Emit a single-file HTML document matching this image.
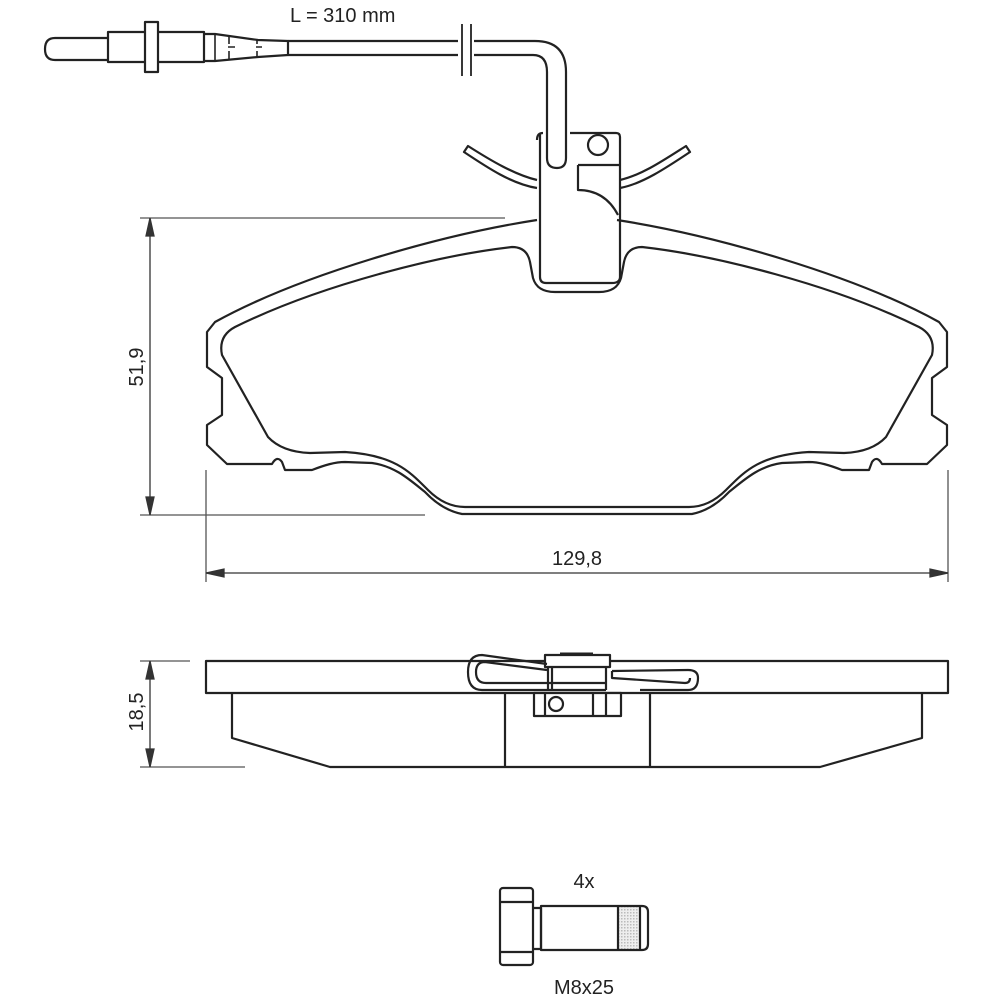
<!DOCTYPE html>
<html><head><meta charset="utf-8"><style>
html,body{margin:0;padding:0;background:#fff}
svg{display:block}
text{font-family:"Liberation Sans",sans-serif;fill:#222}
</style></head><body>
<svg width="1000" height="1000" viewBox="0 0 1000 1000" xmlns="http://www.w3.org/2000/svg">
<defs>
<pattern id="hat" width="3" height="3" patternUnits="userSpaceOnUse"><rect width="3" height="3" fill="#eee"/><rect width="1.5" height="1.5" fill="#bbb"/></pattern>
</defs>
<g fill="none" stroke="#222" stroke-width="2.2" stroke-linejoin="round">
<g>
<path d="M537,220 C440,235 300,275 215,322 L207,332 L207,367 L222,378 L222,415 L207,425 L207,445 L227,464 L272,464 Q277,455 282,462 L285,470 L312,470 C325,465 335,462 345,462 L372,463 C395,466 410,480 425,492 Q442,510 462,514 L577,514"/>
<path d="M577,507 L465,507 Q445,507 428,490 C410,472 395,455 345,452 L310,453 Q282,452 268,437 L222,355 Q218,336 235,327 C320,285 440,255 512,247 Q527,247 530,262 L533,278 Q537,292 555,292 L577,292"/>
</g>
<g transform="translate(1154,0) scale(-1,1)">
<path d="M537,220 C440,235 300,275 215,322 L207,332 L207,367 L222,378 L222,415 L207,425 L207,445 L227,464 L272,464 Q277,455 282,462 L285,470 L312,470 C325,465 335,462 345,462 L372,463 C395,466 410,480 425,492 Q442,510 462,514 L577,514"/>
<path d="M577,507 L465,507 Q445,507 428,490 C410,472 395,455 345,452 L310,453 Q282,452 268,437 L222,355 Q218,336 235,327 C320,285 440,255 512,247 Q527,247 530,262 L533,278 Q537,292 555,292 L577,292"/>
</g>
<path d="M537,180 C515,175 490,160 468,146 L464,152 C488,168 512,184 537,188"/>
<path d="M620,180 C642,175 664,160 686,146 L690,152 C666,168 642,184 620,188"/>
<path d="M540,133 L540,277 Q540,283 546,283 L612,283 Q620,283 620,277 L620,137 Q620,133 616,133 L570,133"/>
<path d="M543,133 Q537,133 537,140"/>
<circle cx="598" cy="145" r="10"/>
<path d="M578,165 L620,165 M578,165 L578,190 Q605,190 618,215"/>
<path d="M288,41 L458,41 M474,41 L535,41 Q566,41 566,72 L566,158 Q566,168 557,168 Q547,168 547,158 L547,72 Q547,55 533,55 L474,55 M458,55 L288,55"/>
<path d="M462,24 L462,76 M471,24 L471,76" stroke-width="1.8"/>
<path d="M108,38 L55,38 Q45,38 45,49 Q45,60 55,60 L108,60"/>
<rect x="108" y="32" width="96" height="30"/>
<rect x="145" y="22" width="13" height="50" fill="#fff"/>
<path d="M204,34 L215,34 L258,40 L288,41 L288,55 L258,57 L215,61 L204,61"/>
<path d="M215,34 L215,61 M229,36 L229,44 M229,51 L229,59 M257,40 L257,44 M257,51 L257,57 M228,47 L235,47 M256,47 L262,47" stroke-width="1.6"/>
<rect x="206" y="661" width="742" height="32"/>
<path d="M232,693 L232,738 L330,767 L820,767 L922,738 L922,693"/>
<path d="M505,693 L505,767 M650,693 L650,767"/>
<rect x="534" y="693" width="87" height="23" fill="#fff"/>
<circle cx="556" cy="704" r="7"/>
<path d="M545,693 L545,716 M593,693 L593,716 M606,693 L606,716"/>
<rect x="545" y="655" width="65" height="12" fill="#fff"/>
<path d="M560,654 L593,654" stroke-width="3"/>
<path d="M548,667 L548,690 M552,667 L552,690 M606,667 L606,690"/>
<path d="M547,664 L482,655 Q468,655 468,672 Q468,690 482,690 L606,690 M547,670 L485,662 Q476,662 476,672 Q476,683 486,683 L606,683 M612,671 L688,670 Q698,670 698,678 Q698,690 688,690 L640,690 M612,671 L612,678 L685,683 Q690,683 690,678"/>
<rect x="500" y="888" width="33" height="77" rx="3"/>
<path d="M500,902 L533,902 M500,952 L533,952"/>
<path d="M533,908 L541,908 L541,949 L533,949"/>
<rect x="618" y="906" width="22" height="44" fill="url(#hat)" stroke="none"/>
<path d="M541,906 L642,906 Q648,906 648,912 L648,944 Q648,950 642,950 L541,950 Z M618,906 L618,950 M640,906 L640,950"/>
</g>
<g stroke="#555" stroke-width="1.3" fill="none">
<path d="M140,218 L505,218 M140,515 L425,515"/>
<path d="M206,470 L206,582 M948,470 L948,582"/>
<path d="M140,661 L190,661 M140,767 L245,767"/>
</g>
<g stroke="#333" stroke-width="1.3" fill="#333">
<path d="M150,218 L150,515 M206,573 L948,573 M150,661 L150,767" fill="none"/>
<path d="M150,218 L146,236 L154,236 Z M150,515 L146,497 L154,497 Z M206,573 L224,569 L224,577 Z M948,573 L930,569 L930,577 Z M150,661 L146,679 L154,679 Z M150,767 L146,749 L154,749 Z"/>
</g>
<text x="290" y="22" font-size="20">L = 310 mm</text>
<text x="577" y="565" font-size="20" text-anchor="middle">129,8</text>
<text transform="translate(143,367) rotate(-90)" font-size="20" text-anchor="middle">51,9</text>
<text transform="translate(143,712) rotate(-90)" font-size="20" text-anchor="middle">18,5</text>
<text x="584" y="888" font-size="20" text-anchor="middle">4x</text>
<text x="584" y="994" font-size="20" text-anchor="middle">M8x25</text>
</svg>
</body></html>
